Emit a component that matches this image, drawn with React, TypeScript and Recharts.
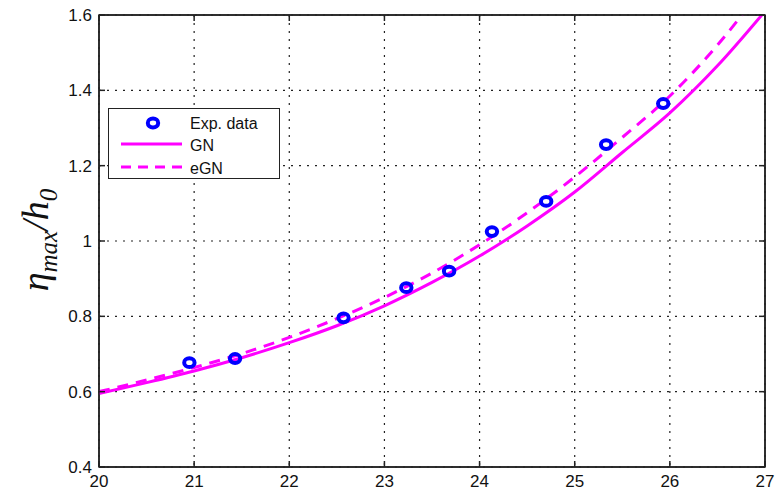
import React from "react";
import {
  ComposedChart,
  Line,
  Scatter,
  XAxis,
  YAxis,
  CartesianGrid,
  Legend,
  ReferenceArea,
} from "recharts";

// experimental points
const expX = [20.95, 21.43, 22.57, 23.23, 23.68, 24.13, 24.7, 25.33, 25.93];
const expY = [0.677, 0.688, 0.796, 0.876, 0.92, 1.025, 1.105, 1.256, 1.365];

// model curves, sampled off the figure
const curveX = [20, 20.5, 21, 21.5, 22, 22.5, 23, 23.5, 24, 24.5, 25, 25.5, 26, 26.5, 27];
const gnY = [0.595, 0.624, 0.655, 0.69, 0.73, 0.775, 0.828, 0.89, 0.96, 1.04, 1.13, 1.235, 1.34, 1.465, 1.61];
const egnY = [0.6, 0.631, 0.664, 0.701, 0.744, 0.794, 0.85, 0.915, 0.99, 1.075, 1.17, 1.275, 1.385, 1.52, 1.68];

const xTicks = [20, 21, 22, 23, 24, 25, 26, 27];
const yTicks = [0.4, 0.6, 0.8, 1, 1.2, 1.4, 1.6];

const seriesNames = ["Exp. data", "GN", "eGN"];

const MAGENTA = "#ff00ff";
const BLUE = "#0000ff";
const FONT = "'Liberation Sans', Arial, sans-serif";

const expData = expX.map((x, i) => ({ x, y: expY[i] }));
const gnData = curveX.map((x, i) => ({ x, y: gnY[i] }));
const egnData = curveX.map((x, i) => ({ x, y: egnY[i] }));

const Ring = (props: any) => {
  const { cx, cy } = props;
  if (cx == null || cy == null) return null;
  return <ellipse cx={cx} cy={cy} rx={5.2} ry={4.4} fill="none" stroke={BLUE} strokeWidth={4} />;
};

const LegendBox = () => (
  <div
    style={{
      width: 170,
      height: 69,
      border: "1.5px solid #222",
      background: "#fff",
      position: "relative",
    }}
  >
    <svg width={170} height={69} style={{ position: "absolute", left: 0, top: 0 }}>
      <ellipse cx={44} cy={14} rx={5.2} ry={4.4} fill="none" stroke={BLUE} strokeWidth={4} />
      <line x1={12} x2={73} y1={35} y2={35} stroke={MAGENTA} strokeWidth={3} />
      <line x1={12} x2={73} y1={58} y2={58} stroke={MAGENTA} strokeWidth={3} strokeDasharray="10 7" />
      {seriesNames.map((n, i) => (
        <text key={n} x={81} y={19.5 + i * 22.5} fontSize={16} fontFamily={FONT} fill="#111">
          {n}
        </text>
      ))}
    </svg>
  </div>
);

export default function App() {
  return (
    <div style={{ position: "absolute", left: 0, top: 0, width: 776, height: 491, background: "#fff" }}>
      <ComposedChart width={776} height={491} margin={{ top: 14, right: 10, bottom: 0, left: 39 }}>
        <CartesianGrid stroke="#222" strokeDasharray="2 6" strokeWidth={1.2} />
        <XAxis
          type="number"
          dataKey="x"
          domain={[20, 27]}
          ticks={xTicks}
          allowDataOverflow
          height={24}
          stroke="#222"
          strokeWidth={1.5}
          tickSize={-6}
          tickMargin={14}
          tick={{ fill: "#111", fontSize: 17, fontFamily: FONT }}
        />
        <XAxis
          xAxisId="top"
          orientation="top"
          type="number"
          dataKey="x"
          domain={[20, 27]}
          ticks={xTicks}
          allowDataOverflow
          height={1}
          stroke="#222"
          strokeWidth={1.5}
          tickSize={-6}
          tickFormatter={() => ""}
        />
        <YAxis
          type="number"
          domain={[0.4, 1.6]}
          ticks={yTicks}
          allowDataOverflow
          width={60}
          stroke="#222"
          strokeWidth={1.5}
          tickSize={-6}
          tickMargin={13}
          tickFormatter={(v: number) => String(Math.round(v * 10) / 10)}
          tick={{ fill: "#111", fontSize: 17, fontFamily: FONT }}
        />
        <YAxis
          yAxisId="right"
          orientation="right"
          type="number"
          domain={[0.4, 1.6]}
          ticks={yTicks}
          allowDataOverflow
          width={1}
          stroke="#222"
          strokeWidth={1.5}
          tickSize={-6}
          tickFormatter={() => ""}
        />
        <ReferenceArea
          x1={xTicks[0]}
          x2={xTicks[xTicks.length - 1]}
          y1={yTicks[0]}
          y2={yTicks[yTicks.length - 1]}
          fill="none"
          fillOpacity={0}
          stroke="#222"
          strokeWidth={1.5}
          ifOverflow="visible"
        />
        <Scatter
          data={expData}
          dataKey="y"
          xAxisId="top"
          yAxisId="right"
          name="Exp. data"
          shape={<Ring />}
          isAnimationActive={false}
        />
        <Line
          data={gnData}
          dataKey="y"
          name="GN"
          type="monotone"
          stroke={MAGENTA}
          strokeWidth={3}
          dot={false}
          isAnimationActive={false}
        />
        <Line
          data={egnData}
          dataKey="y"
          name="eGN"
          type="monotone"
          stroke={MAGENTA}
          strokeWidth={3}
          strokeDasharray="11 8"
          dot={false}
          isAnimationActive={false}
        />
        <Legend
          layout="horizontal"
          verticalAlign="middle"
          align="center"
          content={() => <LegendBox />}
          wrapperStyle={{ left: 108, top: 108, width: 172, height: 71 }}
        />
      </ComposedChart>
      <div
        style={{
          position: "absolute",
          left: 38,
          top: 240,
          transform: "translate(-50%, -50%) rotate(-90deg)",
          fontFamily: "'Liberation Serif', 'DejaVu Serif', serif",
          fontStyle: "italic",
          fontSize: 38,
          whiteSpace: "nowrap",
          color: "#111",
        }}
      >
        η<sub style={{ fontSize: 25 }}>max</sub>/h<sub style={{ fontSize: 25 }}>0</sub>
      </div>
    </div>
  );
}
